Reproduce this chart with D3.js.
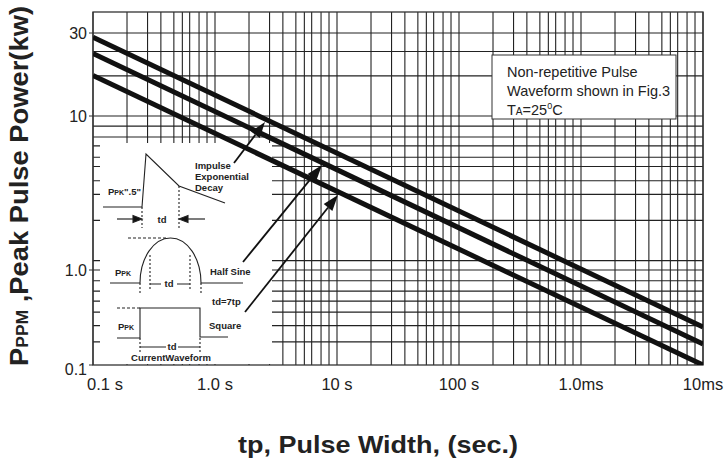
<!DOCTYPE html>
<html>
<head>
<meta charset="utf-8">
<script src="https://cdn.jsdelivr.net/npm/d3@7"></script>
<style>
body{margin:0;background:#fff;}
svg{display:block;font-family:"Liberation Sans",Arial,sans-serif;}
</style>
</head>
<body>
<svg id="chart" width="727" height="465"></svg>
<script>
// pulse width (x) and peak pulse power (y, kW)
var pulseWidth = [0.1, 10000];
var impulsePower = [28.4, 0.251];
var halfSinePower = [22.9, 0.166];
var squarePower = [17.1, 0.1];

var xTickValues = [0.1, 1, 10, 100, 1000, 10000];
var xTickLabels = ["0.1 s", "1.0 s", "10 s", "100 s", "1.0ms", "10ms"];
var yTickValues = [0.1, 1, 10, 30];
var yTickLabels = ["0.1", "1.0", "10", "30"];
// minor grid: multipliers inside each x decade, y lines as drawn
var xGridSteps = [1.9, 2.8, 3.6, 4.6, 5.4, 6.2, 7.4, 8.6];
var yGridValues = [0.175, 0.26, 0.36, 0.47, 0.6, 0.77, 1, 1.15, 2.1, 3.1, 3.8, 4.7, 5.4, 6.4, 7.3, 8.6, 10, 17, 23.5, 30];

var svg = d3.select('#chart');
var plotL = 93, plotR = 703, plotT = 12, plotB = 365;

var xScale = d3.scaleLog().domain([xTickValues[0], xTickValues[5]]).range([plotL, plotR]);
// the printed axis is not evenly spaced, so it is piecewise per decade
var yScale = d3.scaleLog().domain(yTickValues).range([plotB, 270, 116, 33]);

svg.append('defs').append('clipPath').attr('id', 'plotclip')
    .append('rect').attr('x', plotL).attr('y', plotT)
    .attr('width', plotR - plotL).attr('height', plotB - plotT);

var xGrid = [];
xTickValues.slice(0, -1).forEach(function(d){
    xGridSteps.forEach(function(m){ xGrid.push(d * m); });
});
xGrid = xGrid.concat(xTickValues);

var grid = svg.append('g').attr('id', 'grid').attr('stroke', '#222').attr('stroke-width', 1.1);
grid.selectAll('line.v').data(xGrid).enter().append('line')
    .attr('class', 'v')
    .attr('x1', function(d){ return xScale(d); }).attr('x2', function(d){ return xScale(d); })
    .attr('y1', plotT).attr('y2', plotB);
grid.selectAll('line.h').data(yGridValues).enter().append('line')
    .attr('class', 'h')
    .attr('x1', plotL).attr('x2', plotR)
    .attr('y1', function(d){ return yScale(d); }).attr('y2', function(d){ return yScale(d); });

// white boxes for the inset sketch and the note
svg.append('rect').attr('x', 100).attr('y', 143).attr('width', 172).attr('height', 221).attr('fill', '#fff');
svg.append('rect').attr('x', 492).attr('y', 55).attr('width', 184).attr('height', 64)
    .attr('fill', '#fff').attr('stroke', '#333').attr('stroke-width', 1);

// frame
svg.append('rect').attr('x', plotL).attr('y', plotT).attr('width', plotR - plotL).attr('height', plotB - plotT)
    .attr('fill', 'none').attr('stroke', '#333').attr('stroke-width', 1.3);

// y ticks
svg.selectAll('line.ytick').data(yTickValues).enter().append('line')
    .attr('class', 'ytick')
    .attr('x1', plotL - 4).attr('x2', plotL)
    .attr('y1', function(d){ return yScale(d); }).attr('y2', function(d){ return yScale(d); })
    .attr('stroke', '#333');
svg.selectAll('text.ylab').data(yTickValues).enter().append('text')
    .attr('class', 'ylab')
    .attr('x', plotL - 6)
    .attr('y', function(d, i){ return yScale(d) + (i == 0 ? 10 : 6); })
    .attr('text-anchor', 'end')
    .attr('font-size', '16px').attr('fill', '#222')
    .text(function(d, i){ return yTickLabels[i]; });

svg.selectAll('text.xlab').data(xTickValues).enter().append('text')
    .attr('class', 'xlab')
    .attr('x', function(d){ return xScale(d); })
    .attr('dx', function(d, i){ return i == 0 ? 12 : 0; })
    .attr('y', 390)
    .attr('text-anchor', 'middle')
    .attr('font-size', '16.5px').attr('fill', '#222')
    .text(function(d, i){ return xTickLabels[i]; });

// curves
var series = [impulsePower, halfSinePower, squarePower];
var line = d3.line()
    .x(function(d){ return xScale(d[0]); })
    .y(function(d){ return yScale(d[1]); });
svg.append('g').attr('clip-path', 'url(#plotclip)')
  .selectAll('path').data(series).enter().append('path')
    .attr('d', function(s){ return line(pulseWidth.map(function(p, i){ return [p, s[i]]; })); })
    .attr('fill', 'none').attr('stroke', '#111').attr('stroke-width', 5);

function arrow(g, x1, y1, x2, y2, len, half, w){
    var a = Math.atan2(y2 - y1, x2 - x1);
    var bx = x2 - len * Math.cos(a), by = y2 - len * Math.sin(a);
    g.append('line').attr('x1', x1).attr('y1', y1).attr('x2', bx).attr('y2', by)
        .attr('stroke', '#111').attr('stroke-width', w);
    g.append('path')
        .attr('d', 'M' + x2 + ',' + y2 +
            'L' + (bx + half * Math.sin(a)) + ',' + (by - half * Math.cos(a)) +
            'L' + (bx - half * Math.sin(a)) + ',' + (by + half * Math.cos(a)) + 'Z')
        .attr('fill', '#111');
}

var ann = svg.append('g');
arrow(ann, 234, 163, 265, 122, 16, 5.5, 1.8);
arrow(ann, 243, 262, 322, 165, 16, 5.5, 1.8);
arrow(ann, 245, 312, 338, 195, 16, 5.5, 1.8);

// inset: current waveforms
var ins = svg.append('g').attr('transform', 'translate(100,143)')
    .attr('fill', 'none').attr('stroke', '#222').attr('stroke-width', 1.1);
ins.append('path').attr('d', 'M3,64L42,64L46,11L79,43L125,60');
ins.append('path').attr('d', 'M42,64V85M79,43V85').attr('stroke-dasharray', '2,2');
arrow(ins, 17, 76, 42, 76, 9, 3.5, 1.1);
arrow(ins, 105, 76, 79, 76, 9, 3.5, 1.1);

ins.append('path').attr('d', 'M28,95H67').attr('stroke-dasharray', '3,2');
ins.append('path').attr('d', 'M10,140H40A30.5,45 0 0 1 101,140H143');
ins.append('path').attr('d', 'M40,140V151M101,140V151M50,112V147M90,112V147').attr('stroke-dasharray', '2,2');
ins.append('path').attr('d', 'M50,141H61M77,141H90');

ins.append('path').attr('d', 'M17,165H40').attr('stroke-dasharray', '3,2');
ins.append('path').attr('d', 'M17,195H40V165H100V194H128');
ins.append('path').attr('d', 'M40,195V209M100,195V209').attr('stroke-dasharray', '2,2');
ins.append('path').attr('d', 'M40,204H66M78,204H100');

var txt = svg.append('g').attr('transform', 'translate(100,143)')
    .attr('font-size', '9.5px').attr('font-weight', 'bold').attr('fill', '#222');
function label(x, y, s, anchor){
    return txt.append('text').attr('x', x).attr('y', y).attr('text-anchor', anchor || 'start').text(s);
}
label(95, 26, 'Impulse');
label(95, 37, 'Exponential');
label(95, 48, 'Decay');
label(62, 80, 'td', 'middle');
var ppk1 = label(8, 52, 'P');
ppk1.append('tspan').attr('font-size', '7px').text('PK');
ppk1.append('tspan').text('".5"');
var ppk2 = label(15, 133, 'P');
ppk2.append('tspan').attr('font-size', '7px').text('PK');
label(69, 144, 'td', 'middle');
label(110, 132, 'Half Sine');
label(112, 162, 'td=7tp');
var ppk3 = label(18, 187, 'P');
ppk3.append('tspan').attr('font-size', '7px').text('PK');
label(109, 186, 'Square');
label(72, 207, 'td', 'middle');
label(71, 218, 'CurrentWaveform', 'middle');

// note box text
var note = svg.append('g').attr('font-size', '14.5px').attr('fill', '#222');
note.append('text').attr('x', 507).attr('y', 77).text('Non-repetitive Pulse');
note.append('text').attr('x', 507).attr('y', 96).text('Waveform shown in Fig.3');
var ta = note.append('text').attr('x', 507).attr('y', 115).text('T');
ta.append('tspan').attr('font-size', '10px').text('A');
ta.append('tspan').text('=25');
ta.append('tspan').attr('font-size', '9px').attr('dy', -6).text('0');
ta.append('tspan').attr('dy', 6).text('C');

// axis titles
svg.append('text')
    .attr('x', 378).attr('y', 453)
    .attr('text-anchor', 'middle')
    .attr('font-size', '24px').attr('font-weight', 'bold').attr('fill', '#222')
    .attr('textLength', 280).attr('lengthAdjust', 'spacingAndGlyphs')
    .text('tp, Pulse Width, (sec.)');

var yt = svg.append('text')
    .attr('transform', 'translate(28,186) rotate(-90)')
    .attr('text-anchor', 'middle')
    .attr('font-size', '25px').attr('font-weight', 'bold').attr('fill', '#222')
    .attr('textLength', 360).attr('lengthAdjust', 'spacingAndGlyphs');
yt.append('tspan').text('P');
yt.append('tspan').attr('font-size', '16px').text('PPM');
yt.append('tspan').text(' ,Peak Pulse Power(kw)');
</script>
</body>
</html>
